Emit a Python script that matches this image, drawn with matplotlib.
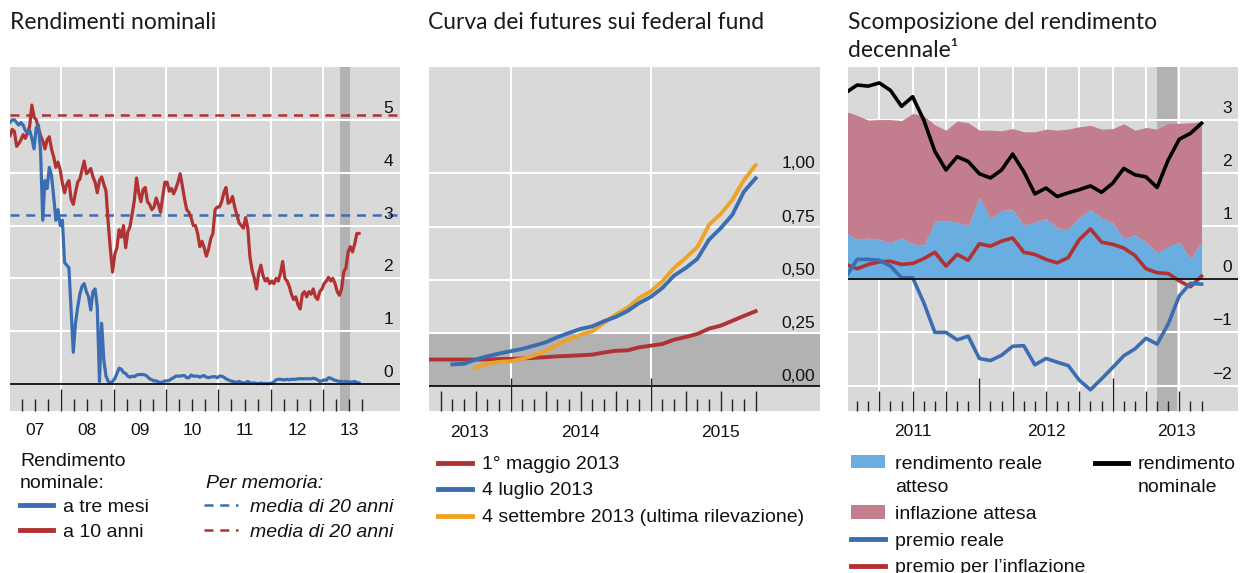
import numpy as np
import matplotlib.pyplot as plt
from matplotlib.lines import Line2D
from matplotlib.patches import Rectangle

W, H = 1249, 573
BG = '#d9d9d9'
BAND = '#b2b2b2'
BLUE = '#3b6db3'
RED = '#b03232'
ORANGE = '#eda22a'
LBLUE = '#6aade0'
PINK = '#c27e8f'
TXT = 'Liberation Sans'
TTL = 'Lato'

# --- panel 1: two readings per month, Jan 2007 .. Aug 2013, plus early Sep 2013
y10 = [4.70, 4.82, 4.78, 4.50, 4.55, 4.62, 4.72, 4.65, 4.75, 4.88, 5.28, 5.05,
       5.00, 4.85, 4.70, 4.60, 4.45, 4.62, 4.68, 4.45, 4.30, 4.10, 4.20, 4.05,
       3.80, 3.62, 3.78, 3.85, 3.50, 3.40, 3.62, 3.82, 3.88, 4.05, 4.22, 3.98,
       4.02, 4.08, 3.92, 3.82, 3.62, 3.85, 3.92, 3.78, 3.65, 3.05, 2.55, 2.12,
       2.45, 2.58, 2.92, 2.78, 3.00, 2.58, 2.88, 2.98, 3.22, 3.48, 3.90, 3.62,
       3.45, 3.68, 3.72, 3.45, 3.40, 3.30, 3.35, 3.52, 3.40, 3.25, 3.55, 3.82,
       3.82, 3.65, 3.70, 3.60, 3.70, 3.82, 3.98, 3.75, 3.50, 3.30, 3.25, 3.15,
       3.00, 3.00, 2.85, 2.60, 2.70, 2.58, 2.42, 2.55, 2.75, 2.85, 3.30, 3.35,
       3.35, 3.45, 3.62, 3.72, 3.42, 3.45, 3.55, 3.35, 3.20, 3.05, 3.00, 2.95,
       3.15, 2.95, 2.40, 2.15, 2.00, 1.80, 2.10, 2.25, 2.05, 1.95, 2.00, 1.90,
       1.95, 1.90, 2.00, 1.95, 2.10, 2.32, 2.00, 1.95, 1.85, 1.70, 1.60, 1.65,
       1.50, 1.42, 1.70, 1.75, 1.65, 1.75, 1.70, 1.80, 1.65, 1.60, 1.75, 1.80,
       1.90, 1.95, 2.02, 1.95, 2.00, 1.90, 1.75, 1.68, 1.80, 2.12, 2.20, 2.50,
       2.60, 2.50, 2.65, 2.85, 2.85]
y3m = [4.95, 5.00, 5.00, 4.95, 4.90, 4.95, 4.90, 4.80, 4.75, 4.80, 4.65, 4.45,
       4.85, 4.90, 4.40, 3.10, 3.85, 3.70, 4.10, 3.95, 3.55, 3.10, 3.30, 3.00,
       3.10, 2.30, 2.25, 2.20, 1.40, 0.60, 1.15, 1.45, 1.70, 1.85, 1.90, 1.75,
       1.65, 1.40, 1.75, 1.80, 1.45, 0.05, 1.15, 0.45, 0.15, 0.05, 0.02, 0.05,
       0.10, 0.20, 0.30, 0.28, 0.22, 0.20, 0.15, 0.13, 0.15, 0.14, 0.17, 0.18,
       0.18, 0.18, 0.17, 0.14, 0.10, 0.08, 0.06, 0.06, 0.04, 0.03, 0.04, 0.06,
       0.06, 0.07, 0.10, 0.12, 0.15, 0.15, 0.15, 0.16, 0.16, 0.12, 0.12, 0.17,
       0.15, 0.15, 0.15, 0.13, 0.15, 0.16, 0.13, 0.12, 0.13, 0.14, 0.14, 0.12,
       0.15, 0.15, 0.13, 0.10, 0.08, 0.06, 0.05, 0.04, 0.03, 0.05, 0.03, 0.02,
       0.02, 0.05, 0.02, 0.02, 0.02, 0.01, 0.01, 0.02, 0.01, 0.01, 0.01, 0.01,
       0.02, 0.04, 0.08, 0.09, 0.09, 0.08, 0.08, 0.09, 0.08, 0.09, 0.09, 0.09,
       0.10, 0.10, 0.10, 0.10, 0.10, 0.10, 0.10, 0.11, 0.10, 0.08, 0.05, 0.06,
       0.08, 0.07, 0.12, 0.11, 0.09, 0.07, 0.06, 0.05, 0.05, 0.04, 0.05, 0.04,
       0.04, 0.04, 0.05, 0.03, 0.02]
avg20_3m = 3.2
avg20_10y = 5.1
years1 = ['07', '08', '09', '10', '11', '12', '13']

# --- panel 2: monthly futures curves (first contract month: Jun, Aug, Oct 2013)
ff_may = [0.125, 0.125, 0.125, 0.125, 0.125, 0.125, 0.127, 0.128, 0.130, 0.133,
          0.136, 0.140, 0.142, 0.145, 0.148, 0.158, 0.166, 0.168, 0.182, 0.190,
          0.198, 0.218, 0.231, 0.245, 0.270, 0.284, 0.307, 0.330, 0.352]
ff_jul = [0.102, 0.105, 0.125, 0.140, 0.153, 0.164, 0.175, 0.190, 0.206, 0.230,
          0.250, 0.269, 0.281, 0.305, 0.325, 0.352, 0.390, 0.419, 0.461, 0.519,
          0.555, 0.598, 0.688, 0.742, 0.805, 0.914, 0.977]
ff_sep = [0.086, 0.106, 0.114, 0.117, 0.128, 0.144, 0.164, 0.195, 0.219, 0.242,
          0.258, 0.297, 0.336, 0.367, 0.414, 0.445, 0.492, 0.555, 0.602, 0.653,
          0.758, 0.809, 0.875, 0.969, 1.039]
ff_labels = ['1° maggio 2013', '4 luglio 2013', '4 settembre 2013 (ultima rilevazione)']

# --- panel 3: monthly decomposition, Jan 2011 .. Sep 2013
real_exp = [0.875, 0.75, 0.78, 0.75, 0.69, 0.78, 0.67, 0.64, 1.09, 1.11, 1.075,
            1.01, 1.55, 1.14, 1.30, 1.31, 1.02, 1.08, 1.14, 0.97, 0.95, 1.16,
            1.31, 1.16, 1.06, 0.77, 0.84, 0.70, 0.50, 0.625, 0.70, 0.39, 0.70]
infl_exp = [2.285, 2.34, 2.22, 2.26, 2.32, 2.21, 2.455, 2.44, 1.82, 1.70, 1.905,
            1.94, 1.26, 1.67, 1.50, 1.53, 1.76, 1.70, 1.69, 1.84, 1.88, 1.715,
            1.59, 1.67, 1.78, 2.16, 1.97, 2.16, 2.33, 2.315, 2.24, 2.56, 2.27]
prem_real = [0.05, 0.375, 0.375, 0.36, 0.25, 0.03, 0.03, -0.44, -1.0, -1.0, -1.14,
             -1.07, -1.49, -1.53, -1.43, -1.26, -1.25, -1.61, -1.49, -1.56, -1.625,
             -1.9, -2.08, -1.875, -1.66, -1.44, -1.31, -1.11, -1.22, -0.84, -0.31,
             -0.075, -0.09]
prem_infl = [0.28, 0.20, 0.28, 0.33, 0.34, 0.28, 0.30, 0.39, 0.51, 0.25, 0.47,
             0.36, 0.67, 0.625, 0.72, 0.78, 0.51, 0.47, 0.375, 0.31, 0.41, 0.75,
             0.95, 0.70, 0.66, 0.59, 0.45, 0.20, 0.125, 0.11, -0.03, -0.14, 0.06]
nominal = [3.52, 3.66, 3.64, 3.70, 3.56, 3.26, 3.44, 3.00, 2.41, 2.06, 2.31,
           2.22, 1.99, 1.91, 2.06, 2.36, 2.03, 1.61, 1.72, 1.56, 1.63, 1.69,
           1.76, 1.64, 1.81, 2.09, 1.97, 1.93, 1.73, 2.25, 2.64, 2.75, 2.94]


def fx(px):
    return px / W


def fy(py):
    return 1 - py / H


def ticks(ax, xs, length):
    ax.vlines(xs, 0, length, transform=ax.get_xaxis_transform(),
              colors='#222222', lw=1.0, zorder=6, clip_on=False)


def ylabels(ax, vals, labels, xfrac, dy):
    for v, lab in zip(vals, labels):
        ax.annotate(lab, xy=(xfrac, v), xycoords=('axes fraction', 'data'),
                    xytext=(0, dy), textcoords='offset points', ha='right',
                    va='baseline', fontsize=12.5, family=TXT, color='#111111',
                    zorder=7)


def xlabels(ax, xs, labels, down):
    for x, lab in zip(xs, labels):
        ax.annotate(lab, xy=(x, 0), xycoords=('data', 'axes fraction'),
                    xytext=(0, -down * 0.72), textcoords='offset points',
                    ha='center', va='baseline', fontsize=12.5, family=TXT,
                    color='#111111', annotation_clip=False)


def base(ax):
    ax.set_facecolor(BG)
    for s in ax.spines.values():
        s.set_visible(False)
    ax.set_xticks([])
    ax.set_yticks([])


fig = plt.figure(figsize=(W / 100, H / 100), dpi=100)

# ---------------- panel 1
ax1 = fig.add_axes([fx(10), fy(411), (400 - 10) / W, (411 - 67) / H])
base(ax1)
t1 = [2007 + (i * 0.5 + 0.25) / 12 for i in range(len(y10))]
ax1.axvspan(2013.325, 2013.515, color=BAND, lw=0, zorder=0.5)
for v in [1, 2, 3, 4, 5]:
    ax1.axhline(v, color='white', lw=1.5, zorder=1)
for yr in range(2008, 2014):
    ax1.axvline(yr, color='white', lw=1.5, zorder=1)
ax1.axhline(0, color='black', lw=1.2, zorder=4)
ax1.axhline(avg20_3m, color=BLUE, lw=1.8, dashes=(3.6, 2.7), zorder=2)
ax1.axhline(avg20_10y, color=RED, lw=1.8, dashes=(3.6, 2.7), zorder=2)
ax1.plot(t1, y10, color=RED, lw=2.3, zorder=3, solid_joinstyle='round')
ax1.plot(t1, y3m, color=BLUE, lw=2.3, zorder=3, solid_joinstyle='round')
ax1.set_xlim(2007.02, 2014.47)
ax1.set_ylim(-0.51, 6.0)
ticks(ax1, [2007 + q * 0.25 for q in range(1, 28) if q % 4], 0.034)
ticks(ax1, list(range(2008, 2014)), 0.064)
ylabels(ax1, [0, 1, 2, 3, 4, 5], ['0', '1', '2', '3', '4', '5'], 0.982, 5)
xlabels(ax1, [2007.5 + i for i in range(7)], years1, 24)

# ---------------- panel 2
ax2 = fig.add_axes([fx(429), fy(411), (820 - 429) / W, (411 - 67) / H])
base(ax2)
ax2.axhspan(0, 0.25, color=BAND, lw=0, zorder=0.5)
for v in [0.25, 0.5, 0.75, 1.0]:
    ax2.axhline(v, color='white', lw=1.5, zorder=1)
for yr in [2014, 2015]:
    ax2.axvline(yr, color='white', lw=1.5, zorder=1)
ax2.axhline(0, color='black', lw=1.2, zorder=4)
t_may = [2013 + (5 + k) / 12 for k in range(len(ff_may))]
t_jul = [2013 + (7 + k) / 12 for k in range(len(ff_jul))]
t_sep = [2013 + (9 + k) / 12 for k in range(len(ff_sep))]
ax2.plot(t_may, ff_may, color=RED, lw=2.8, zorder=3)
ax2.plot(t_sep, ff_sep, color=ORANGE, lw=2.8, zorder=3)
ax2.plot(t_jul, ff_jul, color=BLUE, lw=2.8, zorder=3)
ax2.set_xlim(2013 + 5 / 12, 2016.21)
ax2.set_ylim(-0.117, 1.5)
months2 = [2013 + m / 12 for m in range(6, 34)]
ticks(ax2, [m for i, m in enumerate(months2) if (i + 6) % 3], 0.034)
ticks(ax2, [m for i, m in enumerate(months2) if (i + 6) % 3 == 0 and (i + 6) % 12], 0.058)
ticks(ax2, [2014, 2015], 0.096)
ylabels(ax2, [0, 0.25, 0.5, 0.75, 1.0], ['0,00', '0,25', '0,50', '0,75', '1,00'], 0.987, 3.6)
xlabels(ax2, [2013.708, 2014.5, 2015.5], ['2013', '2014', '2015'], 26)

# ---------------- panel 3
ax3 = fig.add_axes([fx(848), fy(411), (1238 - 848) / W, (411 - 67) / H])
base(ax3)
t3 = np.array([2011 + k / 12 for k in range(len(nominal))])
ax3.axvspan(2013.33, 2013.48, color=BAND, lw=0, zorder=0.5)
for v in [-2, -1, 1, 2, 3]:
    ax3.axhline(v, color='white', lw=1.5, zorder=1)
for q in range(1, 11):
    ax3.axvline(2011 + q * 0.25, color='white', lw=1.5, zorder=1)
re = np.array(real_exp)
ie = np.array(infl_exp)
ax3.fill_between(t3, 0, re, color=LBLUE, lw=0, zorder=2)
ax3.fill_between(t3, re, re + ie, color=PINK, lw=0, zorder=2)
ax3.axhline(0, color='black', lw=1.2, zorder=4)
ax3.plot(t3, prem_infl, color=RED, lw=2.6, zorder=3)
ax3.plot(t3, prem_real, color=BLUE, lw=2.6, zorder=3)
ax3.plot(t3, nominal, color='black', lw=2.6, zorder=3)
ax3.set_xlim(2011.015, 2013.94)
ax3.set_ylim(-2.48, 4.0)
months3 = [2011 + m / 12 for m in range(1, 33)]
ticks(ax3, [m for i, m in enumerate(months3) if (i + 1) % 3], 0.029)
ticks(ax3, [m for i, m in enumerate(months3) if (i + 1) % 3 == 0 and (i + 1) % 12], 0.058)
ticks(ax3, [2012, 2013], 0.096)
ylabels(ax3, [-2, -1, 0, 1, 2, 3], ['\u22122', '\u22121', '0', '1', '2', '3'], 0.985, 5)
xlabels(ax3, [2011.5, 2012.5, 2013.48], ['2011', '2012', '2013'], 25)

# ---------------- titles
tkw = dict(fontsize=16.5, family=TTL, color='#1a1a1a', va='baseline')
fig.text(fx(10), fy(29), 'Rendimenti nominali', **tkw)
fig.text(fx(428), fy(29), 'Curva dei futures sui federal fund', **tkw)
fig.text(fx(848), fy(29), 'Scomposizione del rendimento', **tkw)
fig.text(fx(848), fy(57), 'decennale\u00b9', **tkw)

# ---------------- legends
lkw = dict(fontsize=14, family=TXT, color='#111111', va='baseline')


def hline(x0, x1, y, color, **kw):
    fig.add_artist(Line2D([fx(x0), fx(x1)], [fy(y), fy(y)], color=color,
                          transform=fig.transFigure, **kw))


def hpatch(x0, x1, y0, y1, color):
    fig.add_artist(Rectangle((fx(x0), fy(y1)), fx(x1) - fx(x0), (y1 - y0) / H,
                             transform=fig.transFigure, color=color, lw=0))


fig.text(fx(20), fy(466), 'Rendimento', **lkw)
fig.text(fx(20), fy(488), 'nominale:', **lkw)
hline(20, 53, 505, BLUE, lw=3.5)
fig.text(fx(63), fy(512), 'a tre mesi', **lkw)
hline(20, 53, 530, RED, lw=3.5)
fig.text(fx(63), fy(537), 'a 10 anni', **lkw)
fig.text(fx(206), fy(488), 'Per memoria:', style='italic', **lkw)
hline(204, 238, 505, BLUE, lw=1.8, dashes=(3.6, 2.7))
fig.text(fx(250), fy(512), 'media di 20 anni', style='italic', **lkw)
hline(204, 238, 530, RED, lw=1.8, dashes=(3.6, 2.7))
fig.text(fx(250), fy(537), 'media di 20 anni', style='italic', **lkw)

for y, c, lab in zip([463, 489, 516], [RED, BLUE, ORANGE], ff_labels):
    hline(438, 472, y, c, lw=3.5)
    fig.text(fx(482), fy(y + 6), lab, **lkw)

hpatch(851, 885, 455, 468, LBLUE)
fig.text(fx(895), fy(469), 'rendimento reale', **lkw)
fig.text(fx(895), fy(492), 'atteso', **lkw)
hpatch(851, 885, 505, 519, PINK)
fig.text(fx(895), fy(519), 'inflazione attesa', **lkw)
hline(851, 885, 539, BLUE, lw=3.5)
fig.text(fx(895), fy(546), 'premio reale', **lkw)
hline(851, 885, 566, RED, lw=3.5)
fig.text(fx(895), fy(572), 'premio per l\u2019inflazione', **lkw)
hline(1095, 1128, 463, 'black', lw=3.5)
fig.text(fx(1138), fy(469), 'rendimento', **lkw)
fig.text(fx(1138), fy(492), 'nominale', **lkw)

fig.savefig('out.png', dpi=100, facecolor='white')
